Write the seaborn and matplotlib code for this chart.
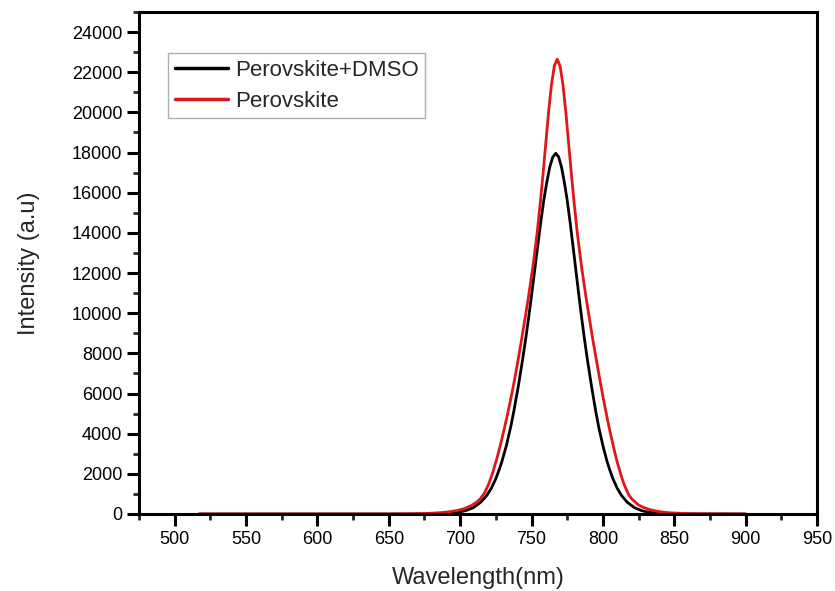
import numpy as np
import pandas as pd
import seaborn as sns
import matplotlib
matplotlib.use("Agg")
import matplotlib.pyplot as plt
from matplotlib.ticker import MultipleLocator

# Perovskite (red) spectrum
wl_red = [517, 600, 650, 668, 678, 688, 693, 698, 703, 708, 711, 714, 717, 720,
          723, 726, 729, 732, 735, 738, 741, 743, 746, 748, 751, 754, 756, 758,
          760, 762, 764, 766, 768, 770, 772, 774, 776, 778, 780, 782, 785, 788,
          790, 793, 795, 798, 800, 803, 805, 808, 810, 813, 815, 818, 820, 823,
          825, 828, 833, 838, 843, 848, 858, 868, 900]
int_red = [0, 0, 0, 11, 30, 75, 118, 175, 270, 430, 560, 750, 1040, 1490,
           2100, 2830, 3670, 4580, 5570, 6640, 7840, 8670, 9980, 10880, 12340, 14040, 15400, 16870,
           18460, 20050, 21400, 22310, 22650, 22310, 21400, 20050, 18460, 16870, 15400, 14040, 12340, 10880,
           9980, 8670, 7840, 6640, 5870, 4780, 4100, 3170, 2600, 1860, 1450, 970, 770, 570,
           450, 340, 215, 135, 85, 55, 20, 7, 0]

# Perovskite+DMSO (black) spectrum
wl_blk = [517, 600, 650, 672.5, 683.0, 693.5, 698.8, 704.0, 709.3, 714.5, 718.7,
          721.9, 725.0, 727.1, 729.2, 732.4, 735.5, 737.6, 740.8, 743.9, 746.0,
          748.1, 750.2, 752.3, 754.4, 756.5, 758.6, 760.7, 762.8, 764.9, 767,
          769, 771, 773, 775, 777, 779, 781, 783, 785, 787, 789, 792, 795, 797,
          800, 803, 805, 807, 810, 813, 817, 822, 827, 832, 837, 847, 857, 900]
int_blk = [0, 0, 0, 4, 14, 48, 90, 170, 320, 590, 930,
           1290, 1760, 2160, 2600, 3410, 4360, 5120, 6380, 7760, 8760,
           9840, 10990, 12180, 13380, 14550, 15630, 16520, 17280, 17780, 17960,
           17780, 17280, 16520, 15630, 14550, 13380, 12180, 10990, 9840, 8760, 7760, 6380, 5120, 4360,
           3410, 2600, 2160, 1760, 1290, 930, 590, 320, 170, 90, 48, 14, 4, 0]

series_names = ["Perovskite+DMSO", "Perovskite"]
series_colors = ["#000000", "#e0161c"]

df = pd.concat([
    pd.DataFrame({"Wavelength": wl_blk, "Intensity": int_blk, "Sample": series_names[0]}),
    pd.DataFrame({"Wavelength": wl_red, "Intensity": int_red, "Sample": series_names[1]}),
], ignore_index=True)

sns.set_style("ticks")
plt.rcParams["font.family"] = ["Liberation Sans", "DejaVu Sans"]

fig = plt.figure(figsize=(8.35, 5.91), dpi=100)
ax = fig.add_axes([0.1665, 0.1303, 0.8119, 0.8494])

sns.lineplot(data=df, x="Wavelength", y="Intensity", hue="Sample",
             hue_order=series_names, palette=series_colors, linewidth=2.0,
             sort=False, estimator=None, ax=ax)

ax.set_xlim(475, 950)
ax.set_ylim(0, 25000)
ax.xaxis.set_major_locator(MultipleLocator(50))
ax.xaxis.set_minor_locator(MultipleLocator(25))
ax.yaxis.set_major_locator(MultipleLocator(2000))
ax.yaxis.set_minor_locator(MultipleLocator(1000))

for s in ax.spines.values():
    s.set_linewidth(2.2)
    s.set_color("black")

ax.tick_params(which="major", direction="out", length=8.5, width=2.2,
               labelsize=13, pad=3.5, colors="black")
ax.tick_params(which="minor", direction="out", length=4.5, width=2.0)
ax.tick_params(top=False, right=False, which="both")

ax.set_xlabel("Wavelength(nm)", fontsize=17, labelpad=14)
ax.set_ylabel("Intensity (a.u)", fontsize=17, labelpad=23)

leg = ax.legend(loc="upper left", bbox_to_anchor=(0.043, 0.918), borderaxespad=0,
                fontsize=16, frameon=True, fancybox=False, handlelength=2.4,
                handletextpad=0.3, borderpad=0.3, labelspacing=0.45)
leg.get_frame().set_edgecolor("#9a9a9a")
leg.get_frame().set_linewidth(1.0)
for line in leg.get_lines():
    line.set_linewidth(2.5)

fig.savefig("out.png", dpi=100)
